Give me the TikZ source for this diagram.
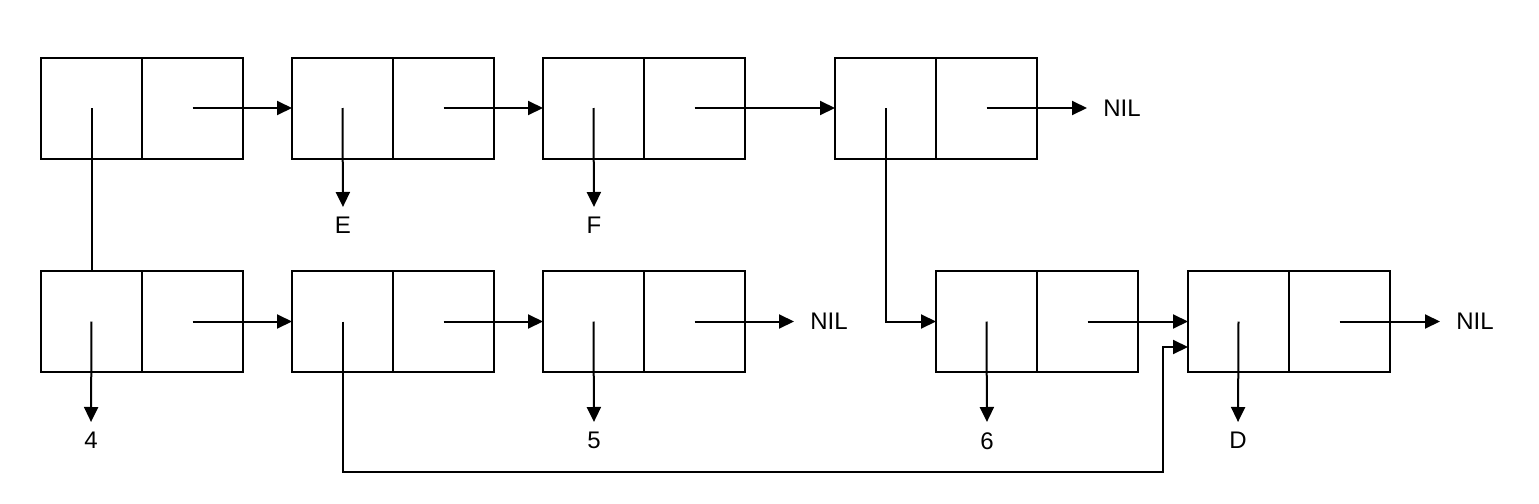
\documentclass[tikz,border=0pt]{standalone}
\usepackage{fontspec}
\setmainfont{Liberation Sans}
\usetikzlibrary{arrows.meta,calc}
\newcommand{\mkcell}[3]{%
  \node[half] (#1l) at (#2+50.5,#3) {};
  \node[half] (#1r) at (#2+151.5,#3) {};}
\begin{document}
\begin{tikzpicture}[x=0.5pt,y=-0.5pt,
  half/.style={draw, line width=1pt, minimum width=50.5pt, minimum height=50.5pt, inner sep=0pt, outer sep=0pt},
  ptr/.style={line width=1pt, -{Triangle[length=7.5pt,width=7pt]}},
  lnk/.style={line width=1pt},
  lbl/.style={inner sep=0pt, font=\fontsize{12}{14}\selectfont}]
\useasboundingbox (0,0) rectangle (1539,504);
% top row
\mkcell{t1}{41}{108}
\mkcell{t2}{292}{108}
\mkcell{t3}{543}{108}
\mkcell{t4}{835}{108}
% bottom row
\mkcell{b1}{41}{321.5}
\mkcell{b2}{292}{321.5}
\mkcell{b3}{543}{321.5}
\mkcell{b4}{936}{321.5}
\mkcell{b5}{1188}{321.5}
% labels
\node[lbl, anchor=north] (E) at (343,217) {E};
\node[lbl, anchor=north] (F) at (594,217) {F};
\node[lbl, anchor=north] (L4) at (91,432) {4};
\node[lbl, anchor=north] (L5) at (594,432) {5};
\node[lbl, anchor=north] (L6) at (987,432) {6};
\node[lbl, anchor=north] (LD) at (1238,432) {D};
\node[lbl, anchor=west] (nilA) at (1103,108) {NIL};
\node[lbl, anchor=west] (nilB) at (810,321.5) {NIL};
\node[lbl, anchor=west] (nilC) at (1456,321.5) {NIL};
\coordinate (loopc) at (1163,472);
\coordinate (b5in) at ($(b5l.west)+(0,25.5)$);
% top connectors
\draw[ptr] (t1r.center) -- (t2l.west);
\draw[ptr] (t2r.center) -- (t3l.west);
\draw[ptr] (t3r.center) -- (t4l.west);
\draw[ptr, shorten >=8pt] (t4r.center) -- (nilA.west);
\draw[lnk] (t1l.center) -- (b1l.north);
\draw[ptr, shorten >=5pt] (t2l.center) -- (E.north);
\draw[ptr, shorten >=5pt] (t3l.center) -- (F.north);
\draw[ptr] (t4l.center) |- (b4l.west);
% bottom connectors
\draw[ptr] (b1r.center) -- (b2l.west);
\draw[ptr] (b2r.center) -- (b3l.west);
\draw[ptr, shorten >=8pt] (b3r.center) -- (nilB.west);
\draw[ptr] (b4r.center) -- (b5l.west);
\draw[ptr, shorten >=8pt] (b5r.center) -- (nilC.west);
\draw[ptr, shorten >=5pt] (b1l.center) -- (L4.north);
\draw[ptr, shorten >=5pt] (b3l.center) -- (L5.north);
\draw[ptr, shorten >=5pt] (b4l.center) -- (L6.north);
\draw[ptr, shorten >=5pt] (b5l.center) -- (LD.north);
\draw[ptr] (b2l.center) |- (loopc) |- (b5in);
\end{tikzpicture}
\end{document}
